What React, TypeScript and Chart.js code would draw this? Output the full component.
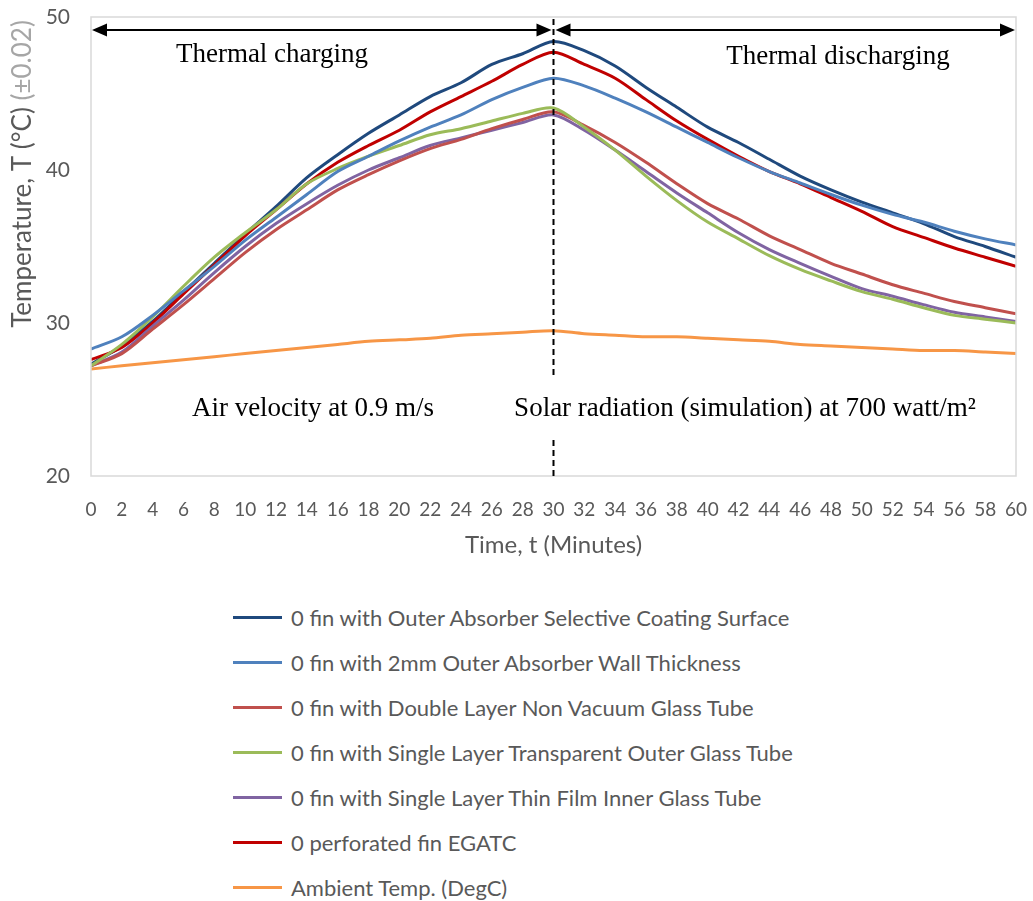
import React, { useEffect, useRef } from "react";
import { Chart, registerables } from "chart.js";

Chart.register(...registerables);

const minutes = [0, 2, 4, 6, 8, 10, 12, 14, 16, 18, 20, 22, 24, 26, 28, 30, 32, 34, 36, 38, 40, 42, 44, 46, 48, 50, 52, 54, 56, 58, 60];

const selectiveCoating = [27.3, 28.5, 30.1, 32.0, 33.9, 35.8, 37.6, 39.5, 41.0, 42.4, 43.6, 44.8, 45.7, 46.9, 47.6, 48.4, 47.8, 46.8, 45.4, 44.1, 42.8, 41.8, 40.7, 39.6, 38.7, 37.9, 37.2, 36.5, 35.65, 35.0, 34.3];
const wallThickness = [28.3, 29.1, 30.5, 32.1, 33.7, 35.4, 36.9, 38.4, 39.9, 40.9, 41.9, 42.8, 43.6, 44.6, 45.4, 46.0, 45.5, 44.7, 43.8, 42.8, 41.8, 40.8, 39.9, 39.15, 38.4, 37.7, 37.1, 36.6, 36.0, 35.5, 35.1];
const doubleLayer = [27.2, 28.0, 29.6, 31.2, 32.9, 34.6, 36.1, 37.4, 38.7, 39.7, 40.6, 41.4, 42.0, 42.7, 43.3, 43.8, 42.9, 41.8, 40.5, 39.1, 37.8, 36.8, 35.7, 34.8, 33.9, 33.2, 32.5, 31.95, 31.4, 31.0, 30.6];
const singleTransparent = [27.2, 28.6, 30.4, 32.4, 34.3, 35.9, 37.4, 39.1, 40.1, 40.9, 41.6, 42.3, 42.7, 43.2, 43.7, 44.05, 42.8, 41.3, 39.6, 38.0, 36.6, 35.5, 34.4, 33.5, 32.75, 32.05, 31.55, 31.0, 30.5, 30.25, 30.0];
const singleThinFilm = [27.2, 28.1, 29.8, 31.5, 33.3, 35.0, 36.5, 37.8, 39.0, 40.0, 40.8, 41.6, 42.1, 42.6, 43.1, 43.6, 42.6, 41.3, 39.9, 38.5, 37.2, 35.9, 34.8, 33.9, 33.05, 32.25, 31.75, 31.2, 30.7, 30.4, 30.1];
const perforatedFin = [27.6, 28.4, 30.0, 31.9, 33.8, 35.7, 37.4, 39.1, 40.5, 41.6, 42.6, 43.8, 44.8, 45.8, 46.9, 47.7, 46.9, 46.0, 44.6, 43.2, 42.0, 40.9, 39.9, 39.1, 38.2, 37.3, 36.3, 35.6, 34.9, 34.3, 33.7];
const ambientTemp = [27.0, 27.2, 27.4, 27.6, 27.8, 28.0, 28.2, 28.4, 28.6, 28.8, 28.9, 29.0, 29.2, 29.3, 29.4, 29.5, 29.3, 29.2, 29.1, 29.1, 29.0, 28.9, 28.8, 28.6, 28.5, 28.4, 28.3, 28.2, 28.2, 28.1, 28.0];

const seriesNames = [
  "0 fin with Outer Absorber Selective Coating Surface",
  "0 fin with 2mm Outer Absorber Wall Thickness",
  "0 fin with Double Layer Non Vacuum Glass Tube",
  "0 fin with Single Layer Transparent Outer Glass Tube",
  "0 fin with Single Layer Thin Film Inner Glass Tube",
  "0 perforated fin EGATC",
  "Ambient Temp. (DegC)",
];
const seriesValues = [selectiveCoating, wallThickness, doubleLayer, singleTransparent, singleThinFilm, perforatedFin, ambientTemp];
const seriesColors = ["#1F497D", "#4F81BD", "#C0504D", "#9BBB59", "#8064A2", "#C00000", "#F79646"];
const drawOrder = [6, 1, 3, 2, 4, 5, 0];

const yMin = 20;
const yMax = 50;
const yStep = 10;
const xStep = 2;

const phaseSplit = 30;
const labelCharging = "Thermal charging";
const labelDischarging = "Thermal discharging";
const labelAir = "Air velocity at 0.9 m/s";
const labelSolar = "Solar radiation (simulation) at 700 watt/m²";
const xTitle = "Time, t (Minutes)";
const yTitleMain = "Temperature, T (°C) ";
const yTitleErr = "(±0.02)";

const SANS = "Lato, 'Open Sans', sans-serif";
const SERIF = "'Liberation Serif', 'DejaVu Serif', serif";

export default function App() {
  const ref = useRef<HTMLCanvasElement | null>(null);

  useEffect(() => {
    const canvas = ref.current;
    if (!canvas) return;

    const annotPlugin = {
      id: "annot",
      afterDraw(chart: any) {
        const ctx = chart.ctx as CanvasRenderingContext2D;
        const a = chart.chartArea;
        const xs = chart.scales.x;
        const xm = xs.getPixelForValue(phaseSplit);
        ctx.save();
        ctx.strokeStyle = "#d9d9d9";
        ctx.lineWidth = 1.5;
        ctx.strokeRect(a.left, a.top, a.right - a.left, a.bottom - a.top);

        ctx.strokeStyle = "#000";
        ctx.lineWidth = 2;
        ctx.setLineDash([6, 4]);
        ctx.beginPath();
        ctx.moveTo(xm, a.top + 2);
        ctx.lineTo(xm, 377);
        ctx.moveTo(xm, 440);
        ctx.lineTo(xm, a.bottom);
        ctx.stroke();
        ctx.setLineDash([]);

        const ay = 30;
        const drawArrow = (x1: number, x2: number) => {
          const hl = 15;
          const hh = 6.5;
          ctx.strokeStyle = "#000";
          ctx.lineWidth = 2;
          ctx.beginPath();
          ctx.moveTo(x1 + hl - 2, ay);
          ctx.lineTo(x2 - hl + 2, ay);
          ctx.stroke();
          ctx.fillStyle = "#000";
          ctx.beginPath();
          ctx.moveTo(x1, ay);
          ctx.lineTo(x1 + hl, ay - hh);
          ctx.lineTo(x1 + hl, ay + hh);
          ctx.closePath();
          ctx.fill();
          ctx.beginPath();
          ctx.moveTo(x2, ay);
          ctx.lineTo(x2 - hl, ay - hh);
          ctx.lineTo(x2 - hl, ay + hh);
          ctx.closePath();
          ctx.fill();
        };
        drawArrow(a.left + 1, xm - 2);
        drawArrow(xm + 2, a.right - 1);

        ctx.fillStyle = "#000";
        ctx.font = `27px ${SERIF}`;
        ctx.textAlign = "center";
        ctx.textBaseline = "middle";
        ctx.fillText(labelCharging, 272, 55);
        ctx.fillText(labelDischarging, 838, 57);
        ctx.fillText(labelAir, 313, 409);
        ctx.fillText(labelSolar, 745, 409);

        ctx.font = `26px ${SANS}`;
        const w1 = ctx.measureText(yTitleMain).width;
        const w2 = ctx.measureText(yTitleErr).width;
        const total = w1 + w2;
        ctx.translate(23, 174);
        ctx.rotate(-Math.PI / 2);
        ctx.textAlign = "left";
        ctx.fillStyle = "#595959";
        ctx.fillText(yTitleMain, -total / 2, 0);
        ctx.fillStyle = "#a6a6a6";
        ctx.fillText(yTitleErr, -total / 2 + w1, 0);
        ctx.restore();
      },
    };

    const datasets = drawOrder.map((i) => ({
      label: seriesNames[i],
      data: minutes.map((m, k) => ({ x: m, y: seriesValues[i][k] })),
      borderColor: seriesColors[i],
      backgroundColor: seriesColors[i],
      borderWidth: 3,
      pointRadius: 0,
      tension: 0.3,
      fill: false,
    }));

    const chart = new Chart(canvas, {
      type: "line",
      data: { datasets },
      options: {
        animation: false,
        responsive: false,
        maintainAspectRatio: false,
        layout: { padding: { left: 0, right: 17, top: 17, bottom: 0 } },
        plugins: { legend: { display: false }, tooltip: { enabled: false } },
        scales: {
          x: {
            type: "linear",
            min: 0,
            max: 60,
            grid: { display: false, drawTicks: false },
            border: { display: false },
            ticks: {
              stepSize: xStep,
              autoSkip: false,
              maxRotation: 0,
              color: "#595959",
              font: { family: SANS, size: 19 },
              padding: 22,
            },
            title: {
              display: true,
              text: xTitle,
              color: "#595959",
              font: { family: SANS, size: 24 },
              padding: { top: 10, bottom: 0 },
            },
            afterFit(s: any) {
              s.height = 84;
              s.paddingLeft = 0;
              s.paddingRight = 0;
            },
          },
          y: {
            min: yMin,
            max: yMax,
            grid: { display: false, drawTicks: false },
            border: { display: false },
            ticks: {
              stepSize: yStep,
              color: "#595959",
              font: { family: SANS, size: 21 },
              padding: 21,
            },
            afterFit(s: any) {
              s.width = 91;
              s.paddingTop = 0;
              s.paddingBottom = 0;
            },
          },
        },
      },
      plugins: [annotPlugin],
    } as any);

    return () => chart.destroy();
  }, []);

  const legendTop = 617;
  const legendGap = 45;

  return (
    <div style={{ position: "absolute", left: 0, top: 0, width: 1033, height: 901, background: "#fff", overflow: "hidden" }}>
      <canvas ref={ref} width={1033} height={560} style={{ position: "absolute", left: 0, top: 0, width: 1033, height: 560 }} />
      {seriesNames.map((name, i) => (
        <div
          key={name}
          style={{
            position: "absolute",
            left: 233,
            top: legendTop + i * legendGap - 16,
            height: 32,
            display: "flex",
            alignItems: "center",
            whiteSpace: "nowrap",
          }}
        >
          <span style={{ display: "inline-block", width: 49, height: 3, background: seriesColors[i], marginRight: 9 }} />
          <span style={{ fontFamily: SANS, fontSize: 22, color: "#595959" }}>{name}</span>
        </div>
      ))}
    </div>
  );
}
